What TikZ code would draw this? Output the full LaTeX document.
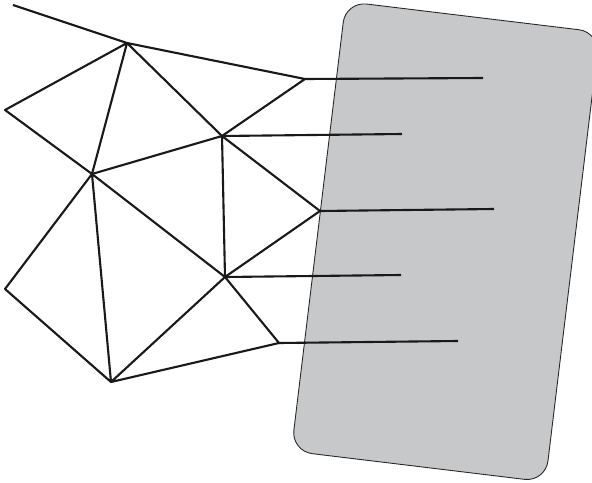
\documentclass[tikz,border=0pt]{standalone}
\usepackage{tikz}
\usetikzlibrary{calc, positioning}
\definecolor{panelgray}{RGB}{199, 200, 202}

\begin{document}
\begin{tikzpicture}[x=0.02cm, y=-0.02cm, line join=round, line cap=butt,
    mesh/.style={line width=1.2pt, black!90},
    lead/.style={line width=1.2pt, black!90}]
    \useasboundingbox (0,0) rectangle (592,483);

    % Grey panel, tilted a little clockwise
    \node[draw=black!85, line width=0.5pt, fill=panelgray, rounded corners=0.42cm,
          rotate=-6.9, minimum width=5.12cm, minimum height=9.06cm, inner sep=0pt]
          (panel) at (445.6,241.7) {};

    % Mesh vertices
    \coordinate (tail) at (13,5);
    \coordinate (a) at (127,43);
    \coordinate (b) at (5,110);
    \coordinate (c) at (305,79);
    \coordinate (d) at (222,136);
    \coordinate (e) at (92,174);
    \coordinate (f) at (320,211);
    \coordinate (g) at (225,277);
    \coordinate (h) at (5,289);
    \coordinate (i) at (111,382);
    \coordinate (j) at (279,343);

    % Free ends of the leads inside the panel
    \coordinate (cend) at (483,78);
    \coordinate (dend) at (402,134);
    \coordinate (fend) at (494,209);
    \coordinate (gend) at (401,275);
    \coordinate (jend) at (458,341);

    % Triangle mesh
    \draw[mesh] (tail) -- (a) -- (c) -- (d) -- (a) -- (b) -- (e) -- (a);
    \draw[mesh] (e) -- (d) -- (f) -- (g) -- (d);
    \draw[mesh] (e) -- (g) -- (i) -- (e) -- (h) -- (i) -- (j) -- (g);

    % Leads into the panel
    \foreach \p/\q in {c/cend, d/dend, f/fend, g/gend, j/jend}
        \draw[lead] (\p) -- (\q);
\end{tikzpicture}
\end{document}
